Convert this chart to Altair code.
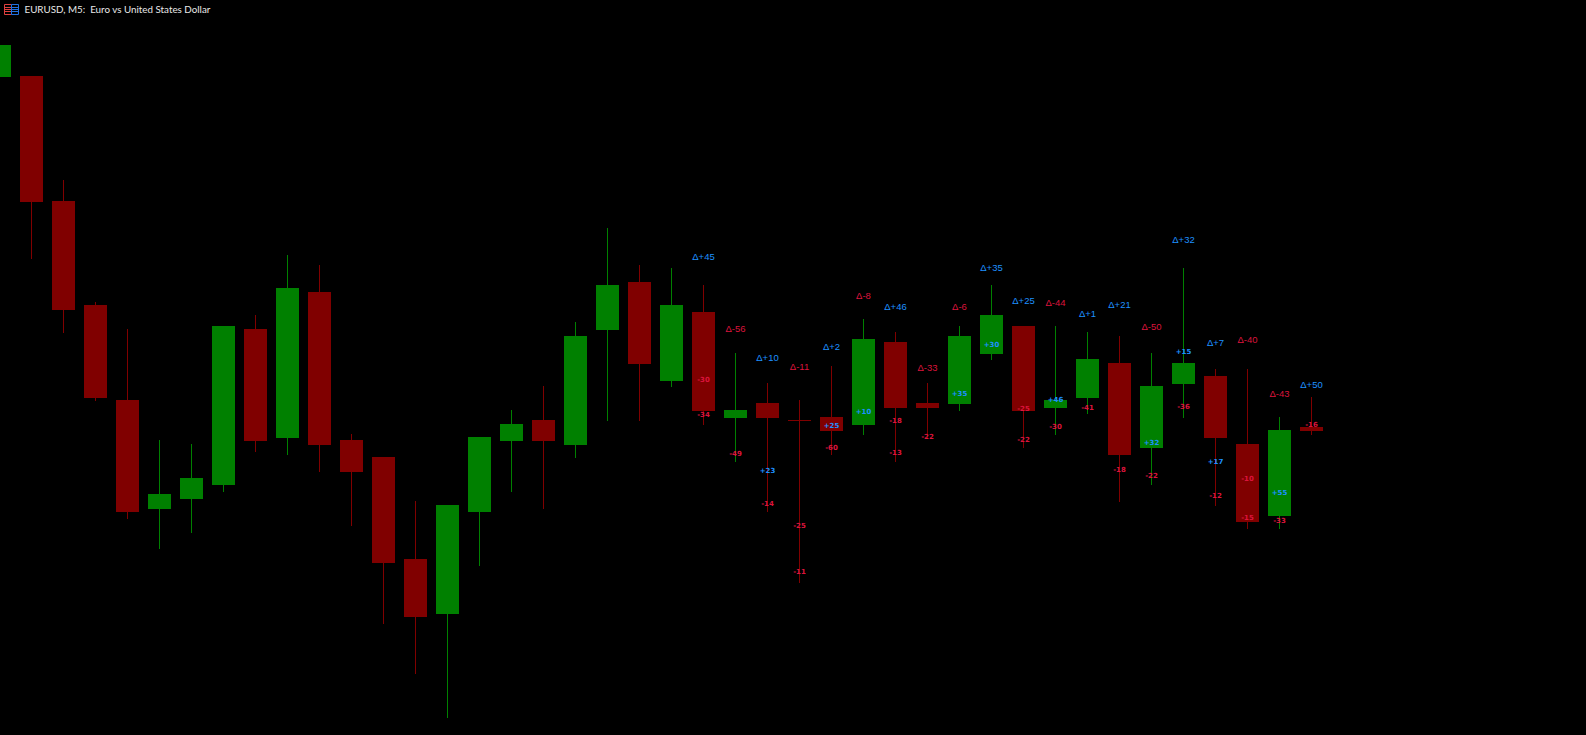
import altair as alt
import pandas as pd

# OHLC in points above the lowest price of the pane
opens  = [658,659,534,430,335,226,236,250,406,297,443,295,278,176,121,223,294,315,290,405,453,354,423,317,332,315,318,310,393,332,331,381,409,327,337,372,287,351,359,291,219,308]
closes = [690,533,425,337,223,241,257,409,294,447,290,263,172,118,230,298,311,294,399,450,371,430,324,325,317,314,304,396,327,327,399,420,324,335,376,280,349,372,297,213,305,304]
highs  = [690,659,555,433,406,295,291,409,420,480,470,301,278,234,230,298,325,349,413,507,470,467,450,382,352,335,369,416,403,352,409,450,409,409,403,399,382,467,366,366,318,338]
lows   = [658,476,402,334,216,186,202,243,283,280,263,209,111,61,17,169,243,226,277,314,314,348,310,273,223,152,280,300,273,296,324,375,287,300,321,233,250,317,229,206,206,300]

delta_bars   = [22,23,24,25,26,27,28,29,30,31,32,33,34,35,36,37,38,39,40,41]
delta_text   = ["+45","-56","+10","-11","+2","-8","+46","-33","-6","+35","+25","-44","+1","+21","-50","+32","+7","-40","-43","+50"]
delta_points = [478,406,377,368,388,439,428,367,428,467,434,432,421,430,408,495,392,395,341,350]

vol_bars   = [22,22,23,24,24,25,25,26,26,27,28,28,29,30,31,32,32,33,33,34,35,36,36,37,37,38,38,39,39,40,40,41]
vol_text   = ["-30","-34","-49","+23","-14","-25","-11","+25","-60","+10","-18","-13","-22","+35","+30","-25","-22","+46","-30","-41","-18","+32","-22","+15","-36","+17","-12","-10","-15","+55","-33","-16"]
vol_points = [355,320,281,264,231,209,163,309,287,323,314,282,298,341,390,326,295,335,308,327,265,292,259,383,328,273,239,256,217,242,214,310]

title_text = "EURUSD, M5:\u00a0 Euro vs United States Dollar"
UP, DOWN = "#008000", "#800000"
BLUE, RED = "#1E90FF", "#DC143C"

candles = pd.DataFrame({
    "bar": range(len(opens)), "open": opens, "close": closes, "high": highs, "low": lows,
})
candles["dir"] = ["up" if c > o else "down" for o, c in zip(opens, closes)]
candles["top"] = candles[["open", "close"]].max(axis=1)
candles["bottom"] = candles[["open", "close"]].min(axis=1)

deltas = pd.DataFrame({"bar": delta_bars, "label": ["\u0394" + t for t in delta_text], "points": delta_points})
deltas["sign"] = ["up" if t[0] == "+" else "down" for t in delta_text]
vols = pd.DataFrame({"bar": vol_bars, "label": vol_text, "points": vol_points})
vols["sign"] = ["up" if t[0] == "+" else "down" for t in vol_text]

W, H = 1586, 735
x_scale = alt.Scale(domain=[0.5 / 32, (W + 0.5) / 32], range=[0, W], nice=False, zero=False, padding=0)
y_scale = alt.Scale(domain=[0, H], range=[H, 0], nice=False, zero=False, padding=0)
x = alt.X("bar:Q", scale=x_scale, axis=None)
y_none = alt.Y("points:Q", scale=y_scale, axis=None)
dir_color = alt.Color("dir:N", scale=alt.Scale(domain=["up", "down"], range=[UP, DOWN]), legend=None)
sign_color = alt.Color("sign:N", scale=alt.Scale(domain=["up", "down"], range=[BLUE, RED]), legend=None)

wicks = alt.Chart(candles).mark_rule(strokeWidth=1).encode(
    x=x, y=alt.Y("low:Q", scale=y_scale, axis=None), y2="high:Q", color=dir_color)
bodies = alt.Chart(candles).mark_bar(size=23, cornerRadius=0).encode(
    x=x, y=alt.Y("bottom:Q", scale=y_scale, axis=None), y2="top:Q", color=dir_color)
delta_labels = alt.Chart(deltas).mark_text(font="Liberation Sans", fontSize=9.5, baseline="middle", align="center").encode(
    x=x, y=y_none, text="label:N", color=sign_color)
vol_labels = alt.Chart(vols).mark_text(font="DejaVu Sans", fontSize=7, fontWeight="bold", baseline="middle", align="center").encode(
    x=x, y=y_none, text="label:N", color=sign_color)

title = alt.Chart(pd.DataFrame({"t": [title_text]})).mark_text(
    font="Lato", fontSize=9.8, color="#E8E8E8", align="left", baseline="middle"
).encode(x=alt.value(24.5), y=alt.value(9.5), text="t:N")

one = pd.DataFrame({"k": [0]})
icon_layers = []
for x0, x1, col in [(4.5, 11.5, "#E04040"), (11.5, 18.5, "#2070E0")]:
    icon_layers.append(
        alt.Chart(one).mark_rect(fill="#000000", stroke=col, strokeWidth=1).encode(
            x=alt.value(x0), x2=alt.value(x1), y=alt.value(4.5), y2=alt.value(14.5)))
    for yy in [7.5, 9.5, 11.5]:
        icon_layers.append(
            alt.Chart(one).mark_rule(color=col, strokeWidth=1).encode(
                x=alt.value(x0), x2=alt.value(x1), y=alt.value(yy)))

chart = alt.layer(wicks, bodies, delta_labels, vol_labels, title, *icon_layers).resolve_scale(
    color="independent"
).properties(
    width=W, height=H, padding=0, background="#000000",
    autosize=alt.AutoSizeParams(type="none"),
).configure_view(stroke=None)

chart.save("out.html", embed_options={"renderer": "svg", "actions": False,
    "defaultStyle": "html,body{margin:0;padding:0;background:#000;overflow:hidden}"})
